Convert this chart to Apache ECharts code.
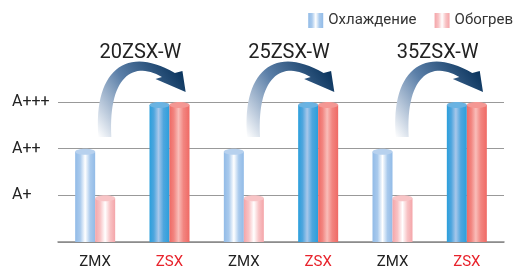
<!DOCTYPE html>
<html>
<head>
<meta charset="utf-8">
<script src="https://cdn.jsdelivr.net/npm/echarts@6/dist/echarts.min.js"></script>
<style>
  html, body { margin: 0; padding: 0; background: #fff; }
  #main { width: 520px; height: 270px; }
</style>
</head>
<body>
<div id="main"></div>
<script>
// data
var categories = ['ZMX', 'ZSX', 'ZMX', 'ZSX', 'ZMX', 'ZSX']
var cooling = [2, 3, 2, 3, 2, 3]
var heating = [1, 3, 1, 3, 1, 3]
var yLabels = ['', 'A+', 'A++', 'A+++']
var models = ['20ZSX-W', '25ZSX-W', '35ZSX-W']
var modelStart = [0, 2, 4]

var font = 'Roboto, "Noto Sans", sans-serif'

function hGrad (stops) {
  return new echarts.graphic.LinearGradient(0, 0, 1, 0, stops.map(function (c) {
    return { offset: c[0], color: c[1] }
  }))
}

// cylinder looks per series and per model kind
var looks = {
  cool: {
    ZMX: { body: [[0, '#92bbe7'], [0.25, '#a9caed'], [0.5, '#ffffff'], [0.75, '#a9caed'], [1, '#92bbe7']], cap: '#b7d1ee' },
    ZSX: { body: [[0, '#2a9fdc'], [0.22, '#4fa6de'], [0.45, '#a8c7ea'], [0.7, '#4fa6de'], [1, '#2a9fdc']], cap: '#6ab3e2' }
  },
  heat: {
    ZMX: { body: [[0, '#f4a5a9'], [0.25, '#f8c2c4'], [0.5, '#ffffff'], [0.75, '#f8c2c4'], [1, '#f4a5a9']], cap: '#f8c4c6' },
    ZSX: { body: [[0, '#ef6a65'], [0.22, '#f28580'], [0.45, '#f9bdb9'], [0.7, '#f28580'], [1, '#ef6a65']], cap: '#f49793' }
  }
}

function barRender (side, look) {
  return function (params, api) {
    var idx = api.value(0)
    var top = api.coord([idx, api.value(1)])
    var base = api.coord([idx, 0])
    var w = 20
    var ry = 3
    var x = side < 0 ? top[0] - w : top[0]
    var p = look[categories[idx]]
    return {
      type: 'group',
      children: [
        {
          type: 'rect',
          shape: { x: x, y: top[1] + ry, width: w, height: base[1] - top[1] - ry },
          style: { fill: hGrad(p.body) }
        },
        {
          type: 'ellipse',
          shape: { cx: x + w / 2, cy: top[1] + ry, rx: w / 2, ry: ry },
          style: { fill: p.cap }
        }
      ]
    }
  }
}

function cubic (p0, p1, p2, p3, n) {
  var out = []
  for (var i = 0; i <= n; i++) {
    var t = i / n
    var m = 1 - t
    out.push([
      m * m * m * p0[0] + 3 * m * m * t * p1[0] + 3 * m * t * t * p2[0] + t * t * t * p3[0],
      m * m * m * p0[1] + 3 * m * m * t * p1[1] + 3 * m * t * t * p2[1] + t * t * t * p3[1]
    ])
  }
  return out
}

// curved arrow from ZMX to ZSX, with model name above
function arrowRender (params, api) {
  var i = api.value(0)
  var a = api.coord([i, api.value(1)])
  var b = api.coord([i + 1, api.value(1)])
  var k = (b[0] - a[0]) / 69
  function pt (p) { return [a[0] + p[0] * k, a[1] + p[1]] }
  var outer = cubic([3, 35], [-2, -30], [28, -58], [74, -29], 30)
  var inner = cubic([62, -25], [35, -42], [12, -25], [15, 35], 30)
  var pts = outer.concat([[81, -31], [84, -10], [56, -23]]).concat(inner).map(pt)
  return {
    type: 'group',
    children: [
      {
        type: 'polygon',
        shape: { points: pts },
        style: {
          fill: new echarts.graphic.LinearGradient(0, 1, 1, 0.2, [
            { offset: 0, color: '#ffffff' },
            { offset: 0.18, color: '#c3d0e0' },
            { offset: 0.5, color: '#5b7fa8' },
            { offset: 1, color: '#0a345d' }
          ])
        }
      },
      {
        type: 'text',
        x: (a[0] + b[0]) / 2 + 8,
        y: a[1] - 49,
        style: {
          text: models[params.dataIndex],
          fill: '#222',
          font: '20px ' + font,
          align: 'center',
          verticalAlign: 'middle'
        }
      }
    ]
  }
}

var chart = echarts.init(document.getElementById('main'))

chart.setOption({
  animation: false,
  textStyle: { fontFamily: font },
  legend: {
    top: 8,
    right: 2,
    itemWidth: 15,
    itemHeight: 15,
    itemGap: 18,
    icon: 'rect',
    textStyle: { fontSize: 15, color: '#333' },
    data: ['Охлаждение', 'Обогрев']
  },
  grid: { left: 58, right: 16, top: 102, bottom: 27 },
  xAxis: {
    type: 'category',
    data: categories,
    axisLine: { lineStyle: { color: '#888', width: 1.5 } },
    axisTick: { length: 5, lineStyle: { color: '#888' } },
    axisLabel: {
      margin: 13,
      fontSize: 15,
      color: function (v) { return v === 'ZSX' ? '#e8232c' : '#222' }
    }
  },
  yAxis: {
    type: 'value',
    min: 0,
    max: 3,
    interval: 1,
    axisLine: { show: false },
    axisTick: { show: false },
    axisLabel: {
      align: 'left',
      margin: 46,
      fontSize: 16,
      color: '#222',
      formatter: function (v) { return yLabels[v] || '' }
    },
    splitLine: { lineStyle: { color: '#999', width: 1 } }
  },
  series: [
    {
      name: 'Охлаждение',
      type: 'custom',
      itemStyle: { color: hGrad(looks.cool.ZMX.body) },
      renderItem: barRender(-1, looks.cool),
      encode: { x: 0, y: 1 },
      data: cooling.map(function (v, i) { return [i, v] })
    },
    {
      name: 'Обогрев',
      type: 'custom',
      itemStyle: { color: hGrad(looks.heat.ZMX.body) },
      renderItem: barRender(1, looks.heat),
      encode: { x: 0, y: 1 },
      data: heating.map(function (v, i) { return [i, v] })
    },
    {
      name: 'arrows',
      type: 'custom',
      z: 3,
      renderItem: arrowRender,
      encode: { x: 0, y: 1 },
      data: modelStart.map(function (s) { return [s, 3] })
    }
  ]
})
</script>
</body>
</html>
